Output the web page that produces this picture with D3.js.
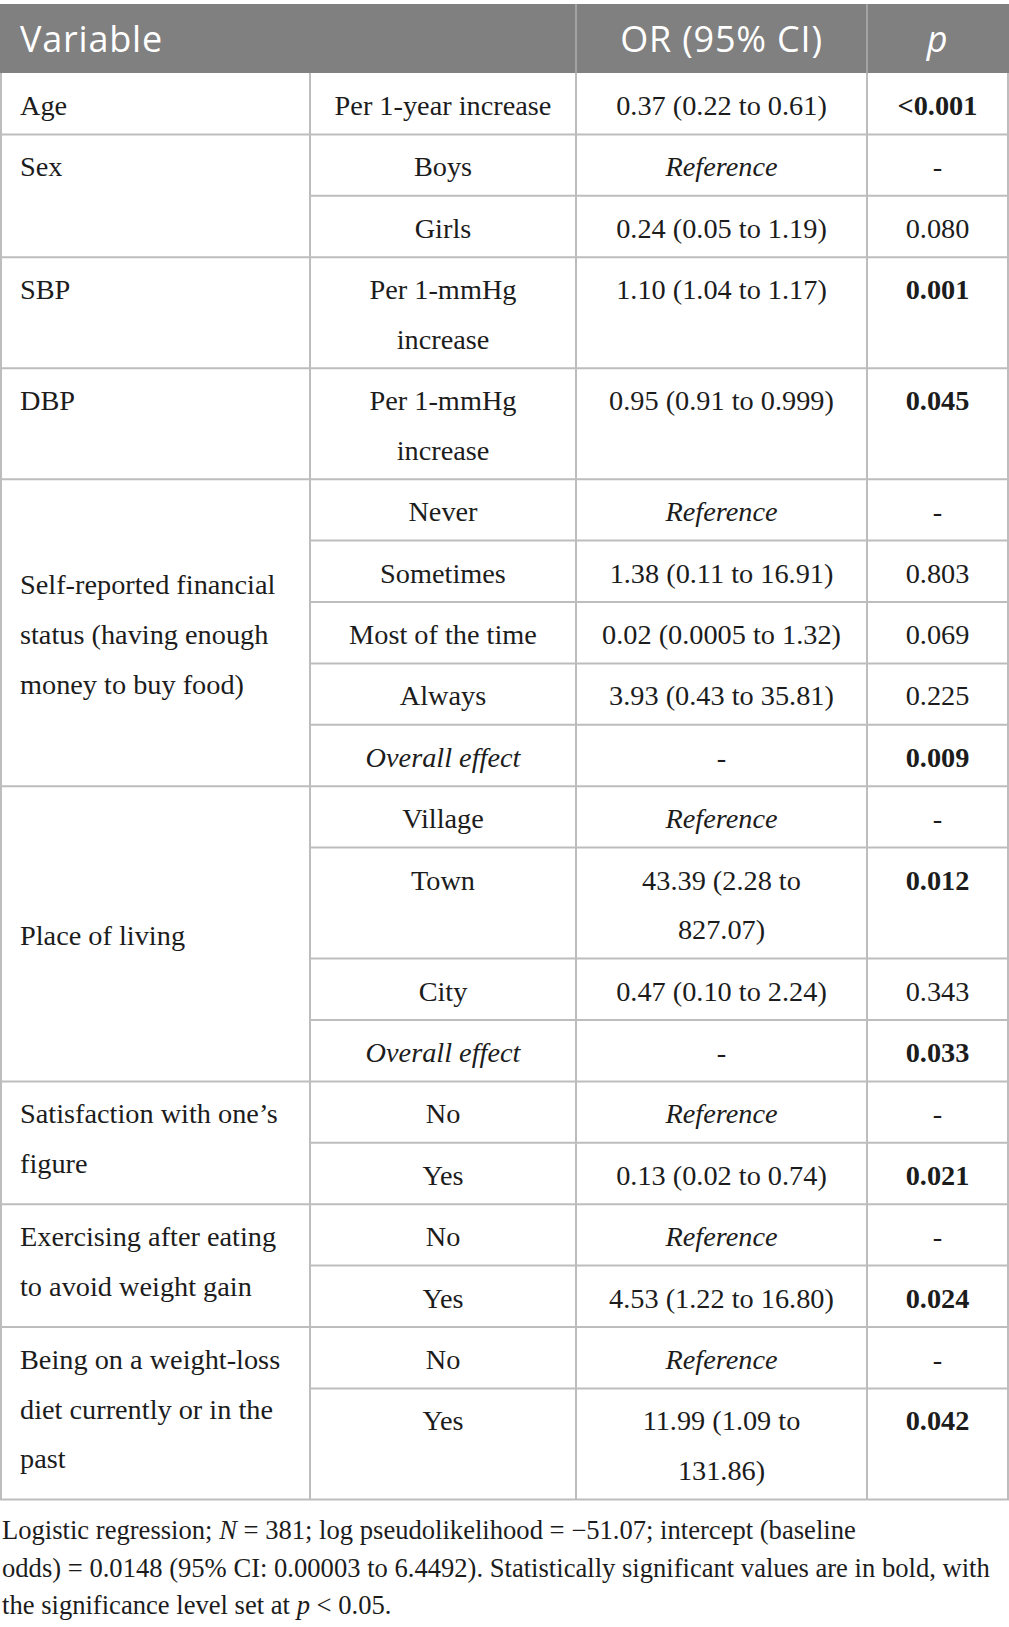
<!DOCTYPE html>
<html><head><meta charset="utf-8">
<script src="https://cdn.jsdelivr.net/npm/d3@7"></script>
<style>
html,body{margin:0;padding:0;background:#fff;}
svg{display:block;}
</style></head>
<body>
<div id="chart"></div>
<script>
// ---------- data ----------
const headers = ["Variable", "", "OR (95% CI)", "p"];
const groupLabels = [
  ["Age"], ["Sex"], ["SBP"], ["DBP"],
  ["Self-reported financial", "status (having enough", "money to buy food)"],
  ["Place of living"],
  ["Satisfaction with one\u2019s", "figure"],
  ["Exercising after eating", "to avoid weight gain"],
  ["Being on a weight-loss", "diet currently or in the", "past"]
];
const groupSizes = [1, 2, 1, 1, 5, 4, 2, 2, 2];
const groupAlign = ["top", "top", "top", "top", "middle", "middle", "top", "top", "top"];
const levels = [
  ["Per 1-year increase"], ["Boys"], ["Girls"],
  ["Per 1-mmHg", "increase"], ["Per 1-mmHg", "increase"],
  ["Never"], ["Sometimes"], ["Most of the time"], ["Always"], ["Overall effect"],
  ["Village"], ["Town"], ["City"], ["Overall effect"],
  ["No"], ["Yes"], ["No"], ["Yes"], ["No"], ["Yes"]
];
const levelItalic = [0,0,0,0,0, 0,0,0,0,1, 0,0,0,1, 0,0,0,0,0,0];
const orValues = [
  ["0.37 (0.22 to 0.61)"], ["Reference"], ["0.24 (0.05 to 1.19)"],
  ["1.10 (1.04 to 1.17)"], ["0.95 (0.91 to 0.999)"],
  ["Reference"], ["1.38 (0.11 to 16.91)"], ["0.02 (0.0005 to 1.32)"], ["3.93 (0.43 to 35.81)"], ["-"],
  ["Reference"], ["43.39 (2.28 to", "827.07)"], ["0.47 (0.10 to 2.24)"], ["-"],
  ["Reference"], ["0.13 (0.02 to 0.74)"], ["Reference"], ["4.53 (1.22 to 16.80)"],
  ["Reference"], ["11.99 (1.09 to", "131.86)"]
];
const pValues = [
  "<0.001", "-", "0.080", "0.001", "0.045",
  "-", "0.803", "0.069", "0.225", "0.009",
  "-", "0.012", "0.343", "0.033",
  "-", "0.021", "-", "0.024", "-", "0.042"
];
const pSignificant = [1,0,0,1,1, 0,0,0,0,1, 0,1,0,1, 0,1,0,1,0,1];
const footnoteLines = [
  [["Logistic regression; ", false], ["N", true], [" = 381; log pseudolikelihood = \u221251.07; intercept (baseline", false]],
  [["odds) = 0.0148 (95% CI: 0.00003 to 6.4492). Statistically significant values are in bold, with", false]],
  [["the significance level set at ", false], ["p", true], [" < 0.05.", false]]
];

// ---------- layout ----------
const W = 1009, H = 1627;
const serif = "'Liberation Serif','Times New Roman',serif";
const sans = "'Open Sans','Noto Sans',sans-serif";
const textColor = "#1c1c1c";
const lineColor = "#bdbdbd";
const headTop = 4, headBottom = 73;
const lineStep = 49.6, rowPad = 11.8, baseOff = 42;

const colKeys = ["c0","c1","c2","c3","c4"];
const colX = d3.scaleOrdinal().domain(colKeys).range([1, 310, 576, 867, 1008]);
const colCenter = k => {
  const i = colKeys.indexOf(k);
  return (colX(colKeys[i]) + colX(colKeys[i + 1])) / 2;
};

const rowLines = levels.map((l, i) => Math.max(l.length, orValues[i].length));
const rowH = rowLines.map(n => rowPad + lineStep * n);
const rowTop = [];
let acc = headBottom;
rowH.forEach(h => { rowTop.push(acc); acc += h; });
const tableBottom = acc;
const yRow = i => i < levels.length ? rowTop[i] : tableBottom;

const svg = d3.select("#chart").append("svg").attr("width", W).attr("height", H);

// header
svg.append("rect").attr("x", 0).attr("y", headTop).attr("width", W).attr("height", headBottom - headTop).attr("fill", "#808080");
svg.selectAll("line.hv").data(["c2","c3"]).enter().append("line")
  .attr("x1", d => colX(d)).attr("x2", d => colX(d))
  .attr("y1", headTop).attr("y2", headBottom)
  .attr("stroke", "#a3a3a3").attr("stroke-width", 2);
const head = svg.append("g").attr("font-family", sans).attr("font-size", 36)
  .attr("letter-spacing", 0.8).attr("fill", "#fff");
head.append("text").attr("x", 20).attr("y", 52).text(headers[0]);
head.append("text").attr("x", colCenter("c2")).attr("y", 52).attr("text-anchor", "middle").text(headers[2]);
head.append("text").attr("x", colCenter("c3")).attr("y", 52).attr("text-anchor", "middle")
  .attr("font-style", "italic").text(headers[3]);

// grid lines
const grid = svg.append("g").attr("stroke", lineColor).attr("stroke-width", 2);
levels.forEach((_, i) => {
  grid.append("line").attr("x1", colX("c1")).attr("x2", W).attr("y1", yRow(i + 1)).attr("y2", yRow(i + 1));
});
let gStart = 0;
const groupStart = [];
groupSizes.forEach(s => { groupStart.push(gStart); gStart += s; });
groupSizes.forEach((s, g) => {
  const yy = yRow(groupStart[g] + s);
  grid.append("line").attr("x1", 0).attr("x2", colX("c1")).attr("y1", yy).attr("y2", yy);
});
colKeys.forEach(k => {
  grid.append("line").attr("x1", colX(k)).attr("x2", colX(k)).attr("y1", headBottom).attr("y2", tableBottom);
});

// body text
const body = svg.append("g").attr("font-family", serif).attr("font-size", 28.3).attr("fill", textColor);
function multiline(g, lines, x, y0, anchor) {
  const t = g.append("text").attr("x", x).attr("y", y0).attr("text-anchor", anchor);
  lines.forEach((ln, j) => {
    t.append("tspan").attr("x", x).attr("y", y0 + j * lineStep).text(ln);
  });
  return t;
}
groupLabels.forEach((lab, g) => {
  const top = yRow(groupStart[g]);
  const bot = yRow(groupStart[g] + groupSizes[g]);
  let y0;
  if (groupAlign[g] === "top") y0 = top + baseOff;
  else {
    const blockH = rowPad + lineStep * lab.length;
    y0 = (top + bot) / 2 - blockH / 2 + baseOff;
  }
  multiline(body, lab, 20, y0, "start");
});
levels.forEach((lv, i) => {
  multiline(body, lv, colCenter("c1"), yRow(i) + baseOff, "middle")
    .attr("font-style", levelItalic[i] ? "italic" : null);
});
orValues.forEach((v, i) => {
  multiline(body, v, colCenter("c2"), yRow(i) + baseOff, "middle")
    .attr("font-style", v[0] === "Reference" ? "italic" : null);
});
pValues.forEach((v, i) => {
  body.append("text").attr("x", colCenter("c3")).attr("y", yRow(i) + baseOff)
    .attr("text-anchor", "middle").attr("font-weight", pSignificant[i] ? "bold" : null).text(v);
});

// footnote
const fn = svg.append("g").attr("font-family", serif).attr("font-size", 26.6).attr("fill", textColor);
footnoteLines.forEach((parts, j) => {
  const t = fn.append("text").attr("x", 2).attr("y", 1539 + j * 37.5);
  parts.forEach(([s, it]) => t.append("tspan").attr("font-style", it ? "italic" : null).text(s));
});
</script>
</body></html>
